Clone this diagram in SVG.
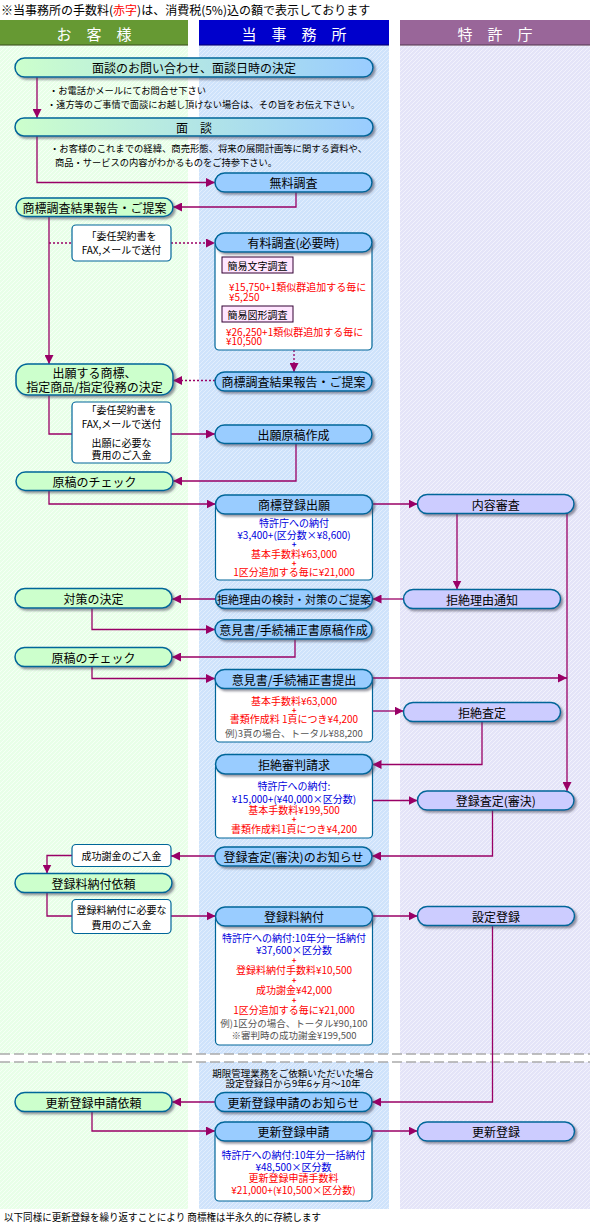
<svg xmlns="http://www.w3.org/2000/svg" width="590" height="1230" viewBox="0 0 590 1230">
<defs>
<pattern id="hg" width="4" height="4" patternUnits="userSpaceOnUse"><rect width="4" height="4" fill="#e8ffe8"/><path d="M0,4 L4,0 M-1,1 L1,-1 M3,5 L5,3" stroke="#f6fff6" stroke-width="1"/></pattern>
<pattern id="hb" width="4" height="4" patternUnits="userSpaceOnUse"><rect width="4" height="4" fill="#cfe3fb"/><path d="M0,4 L4,0 M-1,1 L1,-1 M3,5 L5,3" stroke="#e3eefd" stroke-width="1"/></pattern>
<pattern id="hp" width="4" height="4" patternUnits="userSpaceOnUse"><rect width="4" height="4" fill="#e4e4f8"/><path d="M0,4 L4,0 M-1,1 L1,-1 M3,5 L5,3" stroke="#f2f2fc" stroke-width="1"/></pattern>
<linearGradient id="gb" x1="0" y1="0" x2="1" y2="0"><stop offset="0" stop-color="#ccffcc"/><stop offset="1" stop-color="#99ccff"/></linearGradient>
<filter id="sh" x="-5%" y="-20%" width="115%" height="160%"><feDropShadow dx="2" dy="2" stdDeviation="0.8" flood-color="#445" flood-opacity="0.55"/></filter>
<marker id="ah" markerWidth="9" markerHeight="9" refX="9" refY="4.5" orient="auto" markerUnits="userSpaceOnUse"><path d="M0,0 L9,4.5 L0,9 z" fill="#990066"/></marker>
</defs>
<style>
text { font-family: "Noto Sans CJK JP", "Noto Sans CJK SC", sans-serif; }
.lbl { font-size: 12px; fill: #000; text-anchor: middle; dominant-baseline: central; }
.hd { font-size: 15px; fill: #fff; text-anchor: middle; dominant-baseline: central; }
.s { font-size: 10px; text-anchor: middle; dominant-baseline: central; }
.pl { font-size: 8px; text-anchor: middle; dominant-baseline: central; font-weight: bold; }
.sl { font-size: 10px; dominant-baseline: central; }
.note { font-size: 9.5px; fill: #000; dominant-baseline: central; }
.red { fill: #ff0000; } .blu { fill: #0000dd; } .gry { fill: #555; } .blk { fill: #000; }
.g { fill: #ccffcc; stroke: #006699; stroke-width: 1.5; filter: url(#sh); }
.b { fill: #99ccff; stroke: #006699; stroke-width: 1.5; filter: url(#sh); }
.p { fill: #ccccff; stroke: #006699; stroke-width: 1.5; filter: url(#sh); }
.gr { fill: url(#gb); stroke: #006699; stroke-width: 1.5; filter: url(#sh); }
.w { fill: #fff; stroke: #006699; stroke-width: 1.2; }
.pk { fill: #ffe6ff; stroke: #330033; stroke-width: 1; }
.c { fill: none; stroke: #990066; stroke-width: 1.3; }
.a { marker-end: url(#ah); }
.d { stroke-dasharray: 2 2; }
</style>

<!-- backgrounds -->
<rect x="0" y="0" width="590" height="1230" fill="#fff"/>
<rect x="0" y="46" width="188" height="1163" fill="url(#hg)"/>
<rect x="199" y="46" width="190" height="1163" fill="url(#hb)"/>
<rect x="400" y="46" width="190" height="1163" fill="url(#hp)"/>
<rect x="0" y="1054" width="590" height="8" fill="#fff"/>
<line x1="0" y1="1054" x2="590" y2="1054" stroke="#aaa" stroke-width="1.5" stroke-dasharray="10 4"/>
<line x1="0" y1="1062" x2="590" y2="1062" stroke="#aaa" stroke-width="1.5" stroke-dasharray="10 4"/>

<!-- top note -->
<text x="1" y="9" style="font-size:12px;dominant-baseline:central" class="blk">※当事務所の手数料(<tspan class="red">赤字</tspan>)は、消費税(5%)込の額で表示しております</text>

<!-- headers -->
<g id="header-customer"><rect x="0" y="20" width="188" height="25" fill="#669933"/><rect x="0" y="44" width="188" height="2" fill="#3d5c1f" opacity="0.6"/><text x="94" y="33" class="hd">お　客　様</text></g>
<g id="header-office"><rect x="199" y="20" width="190" height="25" fill="#0000cc"/><rect x="199" y="44" width="190" height="2" fill="#00007a" opacity="0.6"/><text x="294" y="33" class="hd">当　事　務　所</text></g>
<g id="header-jpo"><rect x="400" y="20" width="190" height="25" fill="#996699"/><rect x="400" y="44" width="190" height="2" fill="#5c3d5c" opacity="0.6"/><text x="495" y="33" class="hd">特　許　庁</text></g>

<!-- connectors -->
<g id="connectors">
<path class="c a" d="M37,77 V118"/>
<path class="c a" d="M37,136 V182.5 H215"/>
<path class="c a" d="M296,192 V207 H173"/>
<path class="c a" d="M49,216.5 V364"/>
<path class="c d" d="M49,243 H72"/>
<path class="c d a" d="M171,243 H215"/>
<path class="c d a" d="M294,350 V372"/>
<path class="c d a" d="M215,380.5 H173"/>
<path class="c" d="M49,395 V434 H72"/>
<path class="c a" d="M171,434 H215"/>
<path class="c a" d="M296,443.5 V481 H173"/>
<path class="c a" d="M49,490.5 V504 H215.5"/>
<path class="c a" d="M372.5,504 H417.5"/>
<path class="c a" d="M457,513.5 V589.5"/>
<path class="c a" d="M567,513.5 V791"/>
<path class="c a" d="M403.5,599 H372.5"/>
<path class="c a" d="M215.5,599 H172"/>
<path class="c a" d="M92,608 V629.5 H215"/>
<path class="c a" d="M295,639 V657 H172"/>
<path class="c a" d="M92,666.5 V678.5 H215"/>
<path class="c a" d="M372,678 H567"/>
<path class="c a" d="M372.5,711 H403.5"/>
<path class="c a" d="M482,721.5 V764.5 H372.5"/>
<path class="c a" d="M372.5,800.5 H417.5"/>
<path class="c a" d="M492.5,810 V856 H372"/>
<path class="c a" d="M215,856 H171"/>
<path class="c a" d="M72,855.5 H47 V873.5"/>
<path class="c" d="M47,892.5 V916 H72"/>
<path class="c a" d="M171,916 H215.5"/>
<path class="c a" d="M372.5,916 H417.5"/>
<path class="c a" d="M492.5,925.5 V1102 H372"/>
<path class="c a" d="M215,1102 H172"/>
<path class="c a" d="M92,1111.5 V1131 H215"/>
<path class="c a" d="M372,1131 H417.5"/>
</g>

<!-- nodes -->
<g id="n-inquiry"><rect class="gr" x="15" y="58" width="358" height="19" rx="9.5"/><text class="lbl" x="194" y="67.5">面談のお問い合わせ、面談日時の決定</text></g>
<g id="t-inquiry-notes"><text class="note" x="49" y="90" textLength="157" lengthAdjust="spacingAndGlyphs">・お電話かメールにてお問合せ下さい</text><text class="note" x="47" y="104.3" textLength="313" lengthAdjust="spacingAndGlyphs">・遠方等のご事情で面談にお越し頂けない場合は、その旨をお伝え下さい。</text></g>
<g id="n-meeting"><rect class="gr" x="15" y="118" width="358" height="18" rx="9"/><text class="lbl" x="194" y="127">面　談</text></g>
<g id="t-meeting-notes"><text class="note" x="50" y="148" textLength="317" lengthAdjust="spacingAndGlyphs">・お客様のこれまでの経緯、商売形態、将来の展開計画等に関する資料や、</text><text class="note" x="55" y="162" textLength="222" lengthAdjust="spacingAndGlyphs">商品・サービスの内容がわかるものをご持参下さい。</text></g>
<g id="n-free-search"><rect class="b" x="215" y="173" width="157" height="19" rx="9.5"/><text class="lbl" x="293.5" y="182.5">無料調査</text></g>
<g id="n-report1"><rect class="g" x="16" y="198" width="157" height="18.5" rx="9.25"/><text class="lbl" x="94.5" y="207">商標調査結果報告・ご提案</text></g>
<g id="b-contract1"><rect class="w" x="72" y="225" width="99" height="36" rx="4"/><text class="s blk" x="121.5" y="235">「委任契約書を</text><text class="s blk" x="121.5" y="249">FAX,メールで送付</text></g>
<g id="n-paid-search"><rect class="w" x="215" y="242" width="157" height="108" rx="4"/><rect class="b" x="215" y="233" width="157" height="19" rx="9.5"/><text class="lbl" x="293.5" y="242.5">有料調査(必要時)</text>
<rect class="pk" x="222" y="257" width="71" height="16"/><text class="s blk" x="257.5" y="265">簡易文字調査</text>
<text class="sl red" x="229" y="286.7">¥15,750+1類似群追加する毎に</text><text class="sl red" x="229" y="296">¥5,250</text>
<rect class="pk" x="222" y="306" width="71" height="16"/><text class="s blk" x="257.5" y="314">簡易図形調査</text>
<text class="sl red" x="226" y="331">¥26,250+1類似群追加する毎に</text><text class="sl red" x="226" y="340.7">¥10,500</text></g>
<g id="n-report2"><rect class="b" x="215" y="372" width="157" height="19" rx="9.5"/><text class="lbl" x="293.5" y="381.5">商標調査結果報告・ご提案</text></g>
<g id="n-decide"><rect class="g" x="16" y="364" width="157" height="31" rx="12"/><text class="lbl" x="94.5" y="372.5">出願する商標、</text><text class="lbl" x="94.5" y="386">指定商品/指定役務の決定</text></g>
<g id="b-contract2"><rect class="w" x="72" y="402" width="99" height="61" rx="4"/><text class="s blk" x="121.5" y="409.3">「委任契約書を</text><text class="s blk" x="121.5" y="423.3">FAX,メールで送付</text><text class="s blk" x="121.5" y="442.3">出願に必要な</text><text class="s blk" x="121.5" y="454.3">費用のご入金</text></g>
<g id="n-draft"><rect class="b" x="215" y="425" width="157" height="18.5" rx="9.25"/><text class="lbl" x="293.5" y="434">出願原稿作成</text></g>
<g id="n-check1"><rect class="g" x="16" y="472" width="157" height="18.5" rx="9.25"/><text class="lbl" x="94.5" y="481">原稿のチェック</text></g>
<g id="n-filing"><rect class="w" x="215.5" y="504" width="157" height="76" rx="4"/><rect class="b" x="215.5" y="495" width="157" height="19" rx="9.5"/><text class="lbl" x="294" y="504.5">商標登録出願</text>
<text class="s blu" x="294" y="522.7">特許庁への納付</text><text class="s blu" x="294" y="534">¥3,400+(区分数×¥8,600)</text><text class="pl blu" x="294" y="543">+</text>
<text class="s red" x="294" y="553.3">基本手数料¥63,000</text><text class="pl red" x="294" y="562">+</text><text class="s red" x="294" y="571.7">1区分追加する毎に¥21,000</text></g>
<g id="n-exam"><rect class="p" x="417.5" y="494.5" width="156.5" height="19" rx="9.5"/><text class="lbl" x="495.75" y="504">内容審査</text></g>
<g id="n-consider"><rect class="b" x="215.5" y="589.5" width="157" height="19" rx="9.5"/><text class="lbl" x="294" y="599" style="font-size:11px">拒絶理由の検討・対策のご提案</text></g>
<g id="n-refusal-notice"><rect class="p" x="403.5" y="589.5" width="157" height="19" rx="9.5"/><text class="lbl" x="482" y="599">拒絶理由通知</text></g>
<g id="n-measure"><rect class="g" x="15" y="588.5" width="157" height="19.5" rx="9.75"/><text class="lbl" x="93.5" y="598">対策の決定</text></g>
<g id="n-opinion-draft"><rect class="b" x="215" y="620" width="157" height="19" rx="9.5"/><text class="lbl" x="293.5" y="629.5">意見書/手続補正書原稿作成</text></g>
<g id="n-check2"><rect class="g" x="15" y="647.5" width="157" height="19" rx="9.5"/><text class="lbl" x="93.5" y="657">原稿のチェック</text></g>
<g id="n-opinion-submit"><rect class="w" x="215.5" y="678" width="157" height="64" rx="4"/><rect class="b" x="215" y="669.5" width="157.5" height="19" rx="9.5"/><text class="lbl" x="294" y="679">意見書/手続補正書提出</text>
<text class="s red" x="294" y="700.7">基本手数料¥63,000</text><text class="pl red" x="294" y="709.5">+</text><text class="s red" x="294" y="718.3">書類作成料 1頁につき¥4,200</text><text class="s gry" x="294" y="733.3" style="font-size:9.5px">例)3頁の場合、トータル¥88,200</text></g>
<g id="n-refusal"><rect class="p" x="403.5" y="702.5" width="157" height="19" rx="9.5"/><text class="lbl" x="482" y="712">拒絶査定</text></g>
<g id="n-appeal"><rect class="w" x="215.5" y="764" width="157" height="74" rx="4"/><rect class="b" x="215.5" y="754.5" width="157" height="19.5" rx="9.75"/><text class="lbl" x="294" y="764">拒絶審判請求</text>
<text class="s blu" x="294" y="785.7">特許庁への納付:</text><text class="s blu" x="294" y="798.3">¥15,000+(¥40,000×区分数)</text><text class="s red" x="294" y="809">基本手数料¥199,500</text><text class="pl red" x="294" y="818.5">+</text><text class="s red" x="294" y="828.3">書類作成料1頁につき¥4,200</text></g>
<g id="n-grant"><rect class="p" x="417.5" y="791" width="156.5" height="19" rx="9.5"/><text class="lbl" x="495.75" y="800.5">登録査定(審決)</text></g>
<g id="n-grant-notice"><rect class="b" x="215" y="847" width="157" height="19" rx="9.5"/><text class="lbl" x="293.5" y="856.5">登録査定(審決)のお知らせ</text></g>
<g id="b-success-fee"><rect class="w" x="72" y="844.5" width="99" height="22" rx="4"/><text class="s blk" x="121.5" y="855.5">成功謝金のご入金</text></g>
<g id="n-reg-request"><rect class="g" x="15" y="873.5" width="157" height="19" rx="9.5"/><text class="lbl" x="93.5" y="883">登録料納付依頼</text></g>
<g id="b-reg-payment"><rect class="w" x="72" y="899.5" width="99" height="34" rx="4"/><text class="s blk" x="121.5" y="909">登録料納付に必要な</text><text class="s blk" x="121.5" y="924.3">費用のご入金</text></g>
<g id="n-reg-pay"><rect class="w" x="215.5" y="916" width="157" height="129" rx="4"/><rect class="b" x="215.5" y="907" width="157" height="19" rx="9.5"/><text class="lbl" x="294" y="916.5">登録料納付</text>
<text class="s blu" x="294" y="937.7">特許庁への納付:10年分一括納付</text><text class="s blu" x="294" y="949.3">¥37,600×区分数</text><text class="pl red" x="294" y="959.5">+</text><text class="s red" x="294" y="969">登録料納付手数料¥10,500</text><text class="pl red" x="294" y="979.5">+</text><text class="s red" x="294" y="989.3">成功謝金¥42,000</text><text class="pl red" x="294" y="999.5">+</text><text class="s red" x="294" y="1009.3">1区分追加する毎に¥21,000</text><text class="s gry" x="294" y="1023.3" style="font-size:9.5px">例)1区分の場合、トータル¥90,100</text><text class="s gry" x="294" y="1035" style="font-size:9.5px">※審判時の成功謝金¥199,500</text></g>
<g id="n-setreg"><rect class="p" x="417.5" y="906.5" width="157" height="19" rx="9.5"/><text class="lbl" x="496" y="916">設定登録</text></g>
<g id="t-term-note"><text class="s blk" x="293" y="1073.3" style="font-size:9.5px">期限管理業務をご依頼いただいた場合</text><text class="s blk" x="293" y="1082.7" style="font-size:9.5px">設定登録日から9年6ヶ月〜10年</text></g>
<g id="n-renew-request"><rect class="g" x="15" y="1092.5" width="157" height="19" rx="9.5"/><text class="lbl" x="93.5" y="1102">更新登録申請依頼</text></g>
<g id="n-renew-notice"><rect class="b" x="215" y="1092.5" width="157" height="19" rx="9.5"/><text class="lbl" x="293.5" y="1102">更新登録申請のお知らせ</text></g>
<g id="n-renew-apply"><rect class="w" x="215" y="1131" width="157" height="70" rx="4"/><rect class="b" x="215" y="1122" width="157" height="19" rx="9.5"/><text class="lbl" x="293.5" y="1131.5">更新登録申請</text>
<text class="s blu" x="293.5" y="1154">特許庁への納付:10年分一括納付</text><text class="s blu" x="293.5" y="1166">¥48,500×区分数</text><text class="s red" x="293.5" y="1177.7">更新登録申請手数料</text><text class="s red" x="293.5" y="1189">¥21,000+(¥10,500×区分数)</text></g>
<g id="n-renewed"><rect class="p" x="417.5" y="1122" width="157" height="19" rx="9.5"/><text class="lbl" x="496" y="1131.5">更新登録</text></g>

<text x="4" y="1216.7" style="font-size:10px;dominant-baseline:central" class="blk" textLength="317" lengthAdjust="spacingAndGlyphs">以下同様に更新登録を繰り返すことにより 商標権は半永久的に存続します</text>
</svg>
